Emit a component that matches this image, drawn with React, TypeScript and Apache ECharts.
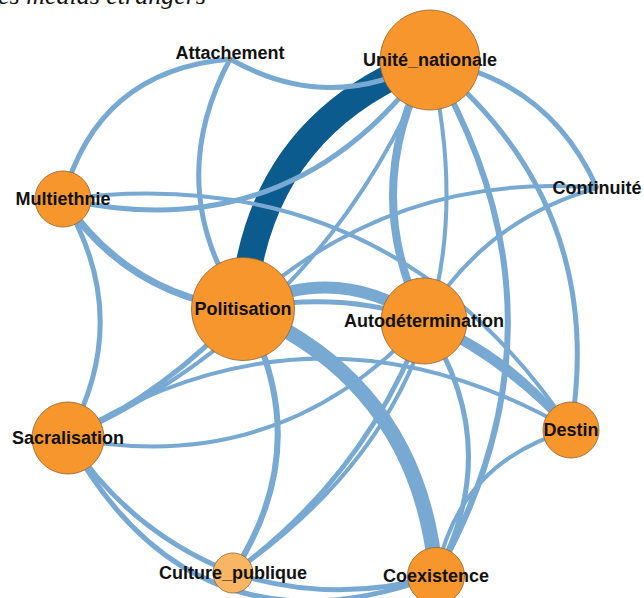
import React, { useEffect, useRef } from "react";
import * as echarts from "echarts";

// Nodes
const nodeNames = [
  "Attachement",
  "Unité_nationale",
  "Multiethnie",
  "Continuité",
  "Politisation",
  "Autodétermination",
  "Sacralisation",
  "Destin",
  "Culture_publique",
  "Coexistence",
];
const nodeValues = [3, 100, 56, 2, 103, 86, 72, 56, 40, 57];

// Layout (pixel positions of the node centres)
const nodeX = [230, 430, 63, 597, 243, 424, 68, 571, 233, 436];
const nodeY = [59, 60, 199, 188, 309, 321, 438, 430, 573, 576];

// Links: [source, target, weight]
const links: [string, string, number][] = [
  ["Politisation", "Unité_nationale", 27],
  ["Politisation", "Coexistence", 15],
  ["Politisation", "Autodétermination", 12],
  ["Unité_nationale", "Autodétermination", 8],
  ["Multiethnie", "Politisation", 7],
  ["Multiethnie", "Destin", 4],
  ["Multiethnie", "Unité_nationale", 5],
  ["Attachement", "Multiethnie", 5],
  ["Attachement", "Politisation", 5],
  ["Attachement", "Unité_nationale", 5],
  ["Unité_nationale", "Continuité", 5],
  ["Unité_nationale", "Destin", 5],
  ["Unité_nationale", "Coexistence", 6],
  ["Unité_nationale", "Sacralisation", 4],
  ["Sacralisation", "Politisation", 5],
  ["Sacralisation", "Destin", 4],
  ["Sacralisation", "Autodétermination", 4],
  ["Multiethnie", "Sacralisation", 5],
  ["Sacralisation", "Culture_publique", 5],
  ["Sacralisation", "Coexistence", 5],
  ["Culture_publique", "Coexistence", 5],
  ["Culture_publique", "Politisation", 6],
  ["Culture_publique", "Autodétermination", 5],
  ["Unité_nationale", "Culture_publique", 4],
  ["Continuité", "Autodétermination", 4],
  ["Politisation", "Continuité", 4],
  ["Autodétermination", "Destin", 8],
  ["Politisation", "Destin", 5],
  ["Destin", "Coexistence", 4],
  ["Autodétermination", "Coexistence", 5],
];

// Curvature of each link (style)
const linkCurves = [
  0.32, 0.3, 0.3, -0.26, -0.23, 0.31, -0.33, -0.35, -0.3, -0.28,
  0.27, 0.29, 0.29, 0.2, -0.1, 0.3, -0.28, 0.29, -0.16, -0.43,
  -0.15, -0.3, -0.15, 0.34, -0.2, 0.22, 0.1, 0.3, -0.31, 0.3,
];

const caption = "es médias étrangers";

export default function App() {
  const ref = useRef<HTMLDivElement>(null);
  useEffect(() => {
    if (!ref.current) return;
    const chart = echarts.init(ref.current, undefined, { renderer: "svg" });
    const data = nodeNames.map((n, i) => ({
      name: n,
      value: [nodeX[i], nodeY[i]],
      symbolSize: nodeValues[i],
      itemStyle: {
        color: n === "Culture_publique" ? "#f8b564" : "#f7962d",
        borderColor: "#8a6538",
        borderWidth: 0.8,
      },
      label: n === "Attachement" ? { offset: [0, -6] } : undefined,
    }));
    const linkData = links.map(([s, t, w], i) => ({
      source: s,
      target: t,
      value: w,
      lineStyle: {
        width: w,
        curveness: linkCurves[i],
        color: i === 0 ? "#0b5b8e" : "#78a9d3",
        opacity: 1,
      },
    }));
    chart.setOption({
      animation: false,
      backgroundColor: "#ffffff",
      grid: { left: 0, right: 0, top: 0, bottom: 0 },
      xAxis: { type: "value", min: 0, max: 644, show: false },
      yAxis: { type: "value", min: 0, max: 598, inverse: true, show: false },
      graphic: [
        {
          type: "text",
          x: -2,
          y: -5,
          style: {
            text: caption,
            font: "italic 26px 'Liberation Serif', 'DejaVu Serif', serif",
            fill: "#111",
            verticalAlign: "middle",
          },
        },
      ],
      series: [
        {
          type: "graph",
          coordinateSystem: "cartesian2d",
          symbol: "circle",
          data,
          links: linkData,
          label: {
            show: true,
            position: "inside",
            color: "#111",
            fontSize: 18,
            fontWeight: "bold",
            fontFamily: "'Liberation Sans', Arial, sans-serif",
          },
          lineStyle: { color: "#78a9d3", opacity: 1 },
          emphasis: { disabled: true },
        },
      ],
    });
    return () => chart.dispose();
  }, []);
  return (
    <div
      ref={ref}
      style={{ position: "absolute", left: 0, top: 0, width: 644, height: 598 }}
    />
  );
}
